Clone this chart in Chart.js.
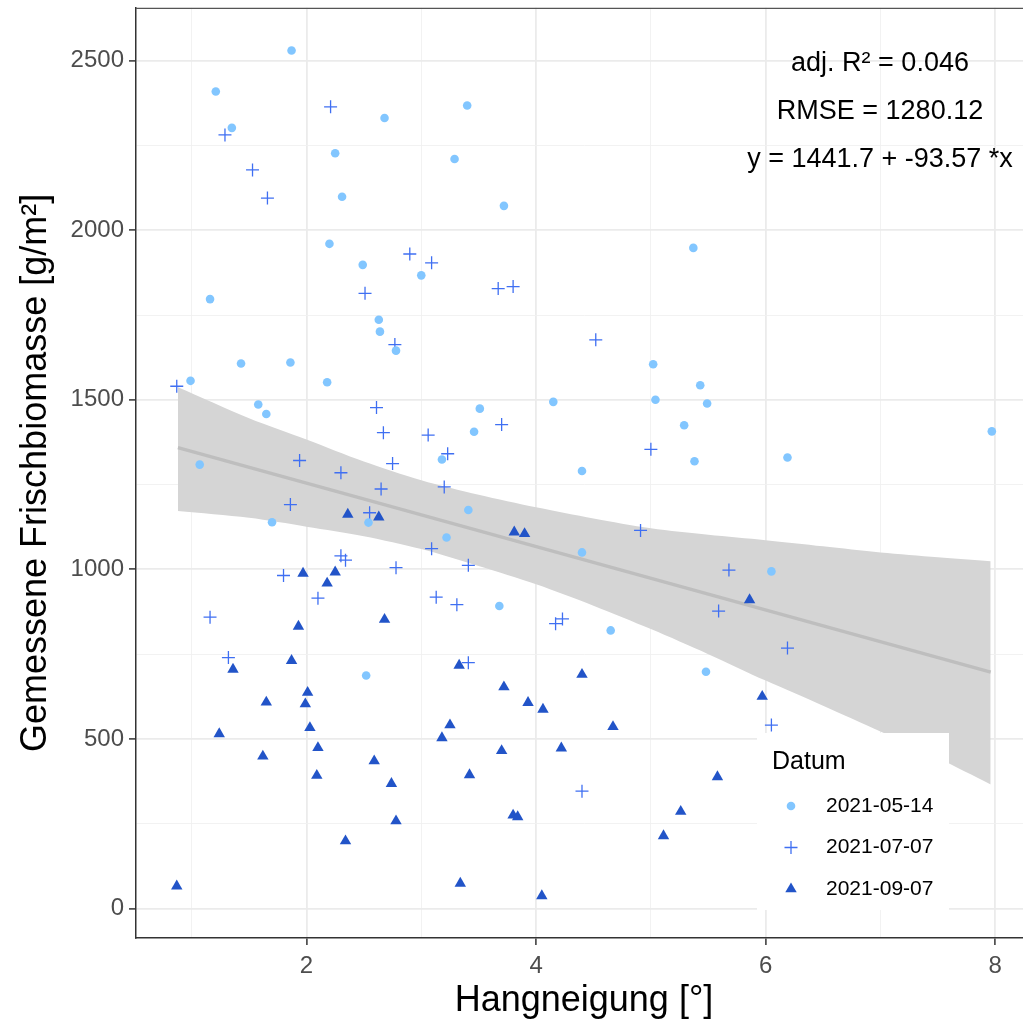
<html>
<head>
<script src="https://cdn.jsdelivr.net/npm/chart.js@4.4.0/dist/chart.umd.min.js"></script>
<style>
  body { margin: 0; overflow: hidden; background: #fff; }
  canvas { display: block; }
</style>
</head>
<body>
<canvas id="chart" width="1040" height="1025"></canvas>
<script>
    const datumLabels = ['2021-05-14', '2021-07-07', '2021-09-07'];

    const mayX = [1.87, 1.21, 1.35, 2.25, 2.31, 2.20, 2.49, 1.16, 1.43, 1.86, 0.99, 2.18, 1.58, 1.65, 1.07, 2.68, 3.40, 3.29, 3.72, 3.00, 2.63, 2.64, 2.78, 3.51, 4.15, 3.46, 3.18, 4.40, 5.37, 5.02, 5.43, 5.04, 5.49, 5.29, 5.38, 6.19, 7.97, 1.70, 2.54, 3.41, 3.22, 3.68, 2.52, 4.40, 6.05, 4.65, 5.48];
    const mayY = [2530, 2409, 2302, 2227, 2099, 1960, 1898, 1797, 1607, 1610, 1556, 1552, 1486, 1458, 1309, 2331, 2368, 2210, 2072, 1867, 1736, 1701, 1645, 1474, 1494, 1406, 1324, 1290, 1948, 1605, 1543, 1500, 1489, 1425, 1319, 1330, 1407, 1139, 1138, 1175, 1094, 892, 687, 1050, 994, 820, 698];

    const julX = [2.21, 1.29, 1.53, 1.66, 2.51, 0.87, 1.94, 2.30, 2.90, 3.09, 3.67, 3.80, 2.77, 2.61, 2.67, 3.06, 3.70, 3.23, 2.75, 4.52, 5.00, 1.86, 2.30, 2.34, 1.80, 2.10, 1.16, 1.32, 2.65, 3.20, 2.55, 3.09, 2.78, 3.41, 3.13, 3.31, 4.17, 4.23, 3.41, 4.91, 5.68, 5.59, 6.19, 6.05, 4.40];
    const julY = [2364, 2281, 2178, 2095, 1814, 1540, 1321, 1285, 1930, 1904, 1828, 1834, 1663, 1477, 1403, 1396, 1427, 1341, 1312, 1677, 1354, 1191, 1040, 1027, 982, 915, 859, 740, 1237, 1243, 1167, 1061, 1005, 1012, 918, 896, 840, 854, 725, 1115, 998, 877, 768, 541, 346];

    const sepX = [2.36, 1.97, 2.25, 2.18, 1.93, 1.87, 1.36, 2.01, 1.99, 1.65, 2.03, 1.24, 2.10, 1.62, 2.09, 2.34, 0.87, 2.63, 3.81, 3.90, 2.68, 3.33, 3.72, 3.93, 4.06, 3.25, 3.18, 2.59, 3.70, 4.22, 2.74, 3.42, 2.78, 3.80, 3.84, 3.34, 4.05, 4.40, 5.86, 5.97, 4.67, 5.58, 5.26, 5.11];
    const sepY = [1162, 988, 992, 959, 832, 731, 705, 637, 603, 608, 533, 515, 474, 449, 392, 199, 66, 1154, 1110, 1105, 852, 717, 653, 607, 587, 541, 503, 435, 465, 473, 368, 394, 258, 275, 270, 74, 37, 690, 910, 625, 536, 388, 286, 214];

    // regression line and its confidence band
    const fitX = [0.88, 7.96];
    const fitY = [1359, 697];
    const bandX = [0.88, 1.5, 2.0, 2.5, 3.0, 3.5, 4.0, 4.5, 5.0, 5.5, 6.0, 6.5, 7.0, 7.5, 7.96];
    const bandUpper = [1537, 1446, 1383, 1318, 1263, 1220, 1183, 1150, 1121, 1102, 1086, 1068, 1050, 1036, 1024];
    const bandLower = [1172, 1152, 1126, 1098, 1060, 1010, 956, 893, 824, 750, 672, 598, 522, 444, 366];

    const xTicks = [1, 2, 3, 4, 5, 6, 7, 8];
    const yTicks = [0, 250, 500, 750, 1000, 1250, 1500, 1750, 2000, 2250, 2500];

    const statLines = ['adj. R\u00B2 = 0.046', 'RMSE = 1280.12', 'y = 1441.7 + -93.57 *x'];

    const colors = ['#82C6FF', '#3F6FF2', '#2254C8'];
    const FONT = '"Liberation Sans", Arial, sans-serif';

    function pairs(xs, ys) {
        return xs.map((x, i) => ({ x: x, y: ys[i] }));
    }

    const pointStyles = [
        { pointStyle: 'circle', radius: 4.3, borderWidth: 0 },
        { pointStyle: 'cross', radius: 6.5, borderWidth: 1.3 },
        { pointStyle: 'triangle', radius: 6.6, borderWidth: 0 }
    ];

    const series = [pairs(mayX, mayY), pairs(julX, julY), pairs(sepX, sepY)];

    const pointSets = series.map((data, i) => ({
        label: datumLabels[i],
        data: data,
        showLine: false,
        pointStyle: pointStyles[i].pointStyle,
        pointRadius: pointStyles[i].radius,
        pointBorderWidth: pointStyles[i].borderWidth,
        pointBackgroundColor: colors[i],
        pointBorderColor: colors[i],
        order: i + 1
    }));

    const isMajor = (v, step) => Math.abs(v % step) < 1e-9;

    const extras = {
        id: 'extras',
        afterDatasetsDraw(chart) {
            const { ctx, chartArea: a } = chart;
            ctx.save();

            // top panel border
            ctx.strokeStyle = '#555';
            ctx.lineWidth = 1.2;
            ctx.beginPath();
            ctx.moveTo(a.left, a.top + 0.5);
            ctx.lineTo(a.right, a.top + 0.5);
            ctx.stroke();

            // statistics text
            ctx.fillStyle = '#000';
            ctx.font = '27px ' + FONT;
            ctx.textAlign = 'center';
            ctx.textBaseline = 'middle';
            statLines.forEach((t, i) => ctx.fillText(t, 880, 64 + i * 48));

            // legend
            ctx.fillStyle = '#fff';
            ctx.fillRect(757, 733, 192, 177);
            ctx.fillStyle = '#000';
            ctx.textAlign = 'left';
            ctx.font = '25px ' + FONT;
            ctx.fillText('Datum', 772, 762);
            ctx.font = '21px ' + FONT;
            datumLabels.forEach((lab, i) => {
                const y = 806 + i * 41.5;
                ctx.fillStyle = colors[i];
                ctx.strokeStyle = colors[i];
                ctx.lineWidth = pointStyles[i].borderWidth;
                Chart.helpers.drawPoint(ctx, {
                    pointStyle: pointStyles[i].pointStyle,
                    radius: pointStyles[i].radius,
                    rotation: 0,
                    borderWidth: pointStyles[i].borderWidth
                }, 791, y);
                ctx.fillStyle = '#000';
                ctx.fillText(lab, 826, y);
            });
            ctx.restore();
        }
    };

    new Chart('chart', {
        type: 'scatter',
        data: {
            datasets: [
                ...pointSets,
                {
                    type: 'line',
                    label: 'fit',
                    data: pairs(fitX, fitY),
                    borderColor: '#BEBEBE',
                    borderWidth: 3.5,
                    pointRadius: 0,
                    fill: false,
                    order: 5
                },
                {
                    type: 'line',
                    label: 'upper',
                    data: pairs(bandX, bandUpper),
                    borderWidth: 0,
                    pointRadius: 0,
                    tension: 0.3,
                    backgroundColor: '#D5D5D5',
                    fill: '+1',
                    order: 10
                },
                {
                    type: 'line',
                    label: 'lower',
                    data: pairs(bandX, bandLower),
                    borderWidth: 0,
                    pointRadius: 0,
                    tension: 0.3,
                    fill: false,
                    order: 11
                }
            ]
        },
        options: {
            responsive: false,
            animation: false,
            devicePixelRatio: 1,
            layout: { padding: { left: 0, top: 7, right: 8, bottom: 0 } },
            plugins: {
                legend: { display: false },
                tooltip: { enabled: false }
            },
            scales: {
                x: {
                    type: 'linear',
                    min: 0.515,
                    max: 8.32,
                    afterBuildTicks: s => { s.ticks = xTicks.map(v => ({ value: v })); },
                    afterFit: s => { s.height = 87; s.paddingLeft = 0; s.paddingRight = 0; },
                    border: { color: '#333', width: 1.5 },
                    grid: {
                        color: c => isMajor(c.tick ? c.tick.value : 0, 2) ? '#EBEBEB' : '#F0F0F0',
                        lineWidth: c => isMajor(c.tick ? c.tick.value : 0, 2) ? 1.8 : 0.9,
                        tickColor: c => isMajor(c.tick ? c.tick.value : 0, 2) ? '#333' : 'rgba(0,0,0,0)',
                        tickLength: 7,
                        tickWidth: 1.5
                    },
                    ticks: {
                        color: '#4D4D4D',
                        font: { family: FONT, size: 24 },
                        padding: 7,
                        maxRotation: 0,
                        autoSkip: false,
                        callback: v => isMajor(v, 2) ? String(v) : ''
                    },
                    title: {
                        display: true,
                        text: 'Hangneigung [\u00B0]',
                        color: '#000',
                        font: { family: FONT, size: 36 },
                        padding: { top: 0, bottom: 2 }
                    }
                },
                y: {
                    type: 'linear',
                    min: -87,
                    max: 2656,
                    afterBuildTicks: s => { s.ticks = yTicks.map(v => ({ value: v })); },
                    afterFit: s => { s.width = 136; s.paddingTop = 0; s.paddingBottom = 0; },
                    border: { color: '#333', width: 1.5 },
                    grid: {
                        color: c => isMajor(c.tick ? c.tick.value : 0, 500) ? '#EBEBEB' : '#F0F0F0',
                        lineWidth: c => isMajor(c.tick ? c.tick.value : 0, 500) ? 1.8 : 0.9,
                        tickColor: c => isMajor(c.tick ? c.tick.value : 0, 500) ? '#333' : 'rgba(0,0,0,0)',
                        tickLength: 7,
                        tickWidth: 1.5
                    },
                    ticks: {
                        color: '#4D4D4D',
                        font: { family: FONT, size: 24 },
                        padding: 5,
                        autoSkip: false,
                        callback: v => isMajor(v, 500) ? String(v) : ''
                    },
                    title: {
                        display: true,
                        text: 'Gemessene Frischbiomasse [g/m\u00B2]',
                        color: '#000',
                        font: { family: FONT, size: 36 },
                        padding: { top: 14, bottom: 0 }
                    }
                }
            }
        },
        plugins: [extras]
    });
</script>
</body>
</html>
